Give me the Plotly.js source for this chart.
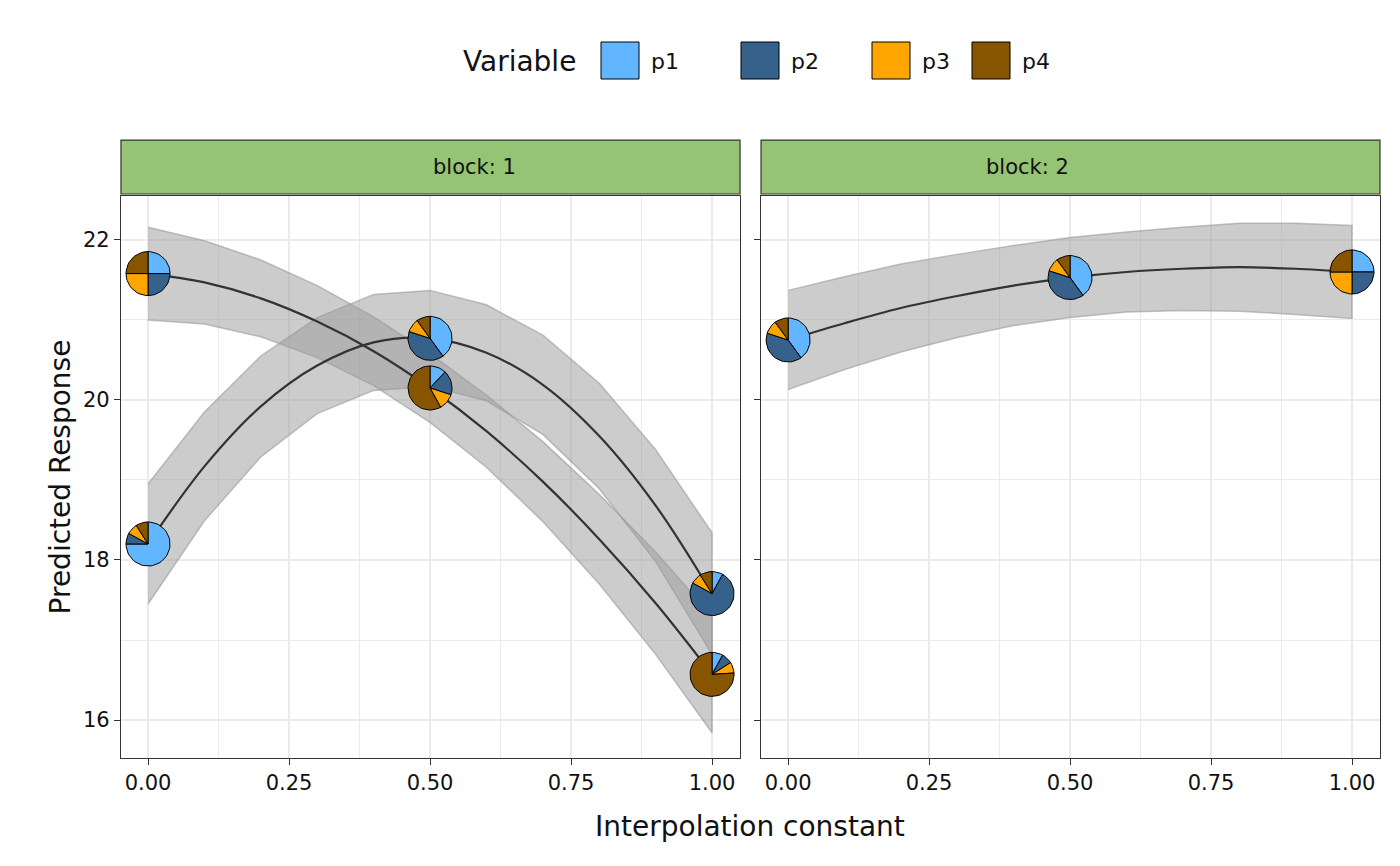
<!DOCTYPE html>
<html>
<head>
<meta charset="utf-8">
<script src="https://cdn.plot.ly/plotly-3.0.1.min.js"></script>
<style>body{margin:0;} #chart{width:1400px;height:866px;}</style>
</head>
<body>
<div id="chart"></div>
<script>
// curve values
let xs = [0, 0.1, 0.2, 0.3, 0.4, 0.5, 0.6, 0.7, 0.8, 0.9, 1];
let curveA = [21.58, 21.47, 21.27, 20.98, 20.61, 20.15, 19.61, 18.98, 18.26, 17.46, 16.57];
let bandA = [0.58, 0.52, 0.48, 0.45, 0.43, 0.43, 0.45, 0.5, 0.56, 0.64, 0.73];
let curveB = [18.2, 19.17, 19.92, 20.43, 20.72, 20.77, 20.59, 20.19, 19.55, 18.68, 17.58];
let bandB = [0.75, 0.68, 0.63, 0.6, 0.6, 0.6, 0.6, 0.62, 0.66, 0.7, 0.76];
let curveC = [20.75, 20.96, 21.15, 21.3, 21.43, 21.53, 21.6, 21.64, 21.66, 21.64, 21.6];
let bandC = [0.62, 0.58, 0.55, 0.52, 0.5, 0.5, 0.5, 0.52, 0.55, 0.57, 0.58];

// pie points
let pieBlock = [1, 1, 1, 1, 1, 1, 2, 2, 2];
let pieX = [0, 0, 0.5, 0.5, 1, 1, 0, 0.5, 1];
let pieY = [21.58, 18.2, 20.77, 20.15, 17.58, 16.57, 20.75, 21.53, 21.6];
let p1 = [0.25, 0.75, 0.4, 0.12, 0.08, 0.08, 0.4, 0.4, 0.25];
let p2 = [0.25, 0.08, 0.4, 0.18, 0.75, 0.08, 0.4, 0.4, 0.25];
let p3 = [0.25, 0.08, 0.1, 0.12, 0.08, 0.08, 0.1, 0.1, 0.25];
let p4 = [0.25, 0.09, 0.1, 0.58, 0.09, 0.76, 0.1, 0.1, 0.25];
let varNames = ["p1", "p2", "p3", "p4"];
let varColors = ["#62B6FF", "#35618A", "#FFA500", "#875400"];

let traces = [];

function addBand(x, c, hw, xa, ya) {
    let up = c.map((v, i) => v + hw[i]);
    let lo = c.map((v, i) => v - hw[i]);
    traces.push({x: x.concat(x.slice().reverse()), y: up.concat(lo.slice().reverse()),
        type: "scatter", mode: "lines", fill: "toself", fillcolor: "rgba(153,153,153,0.5)",
        line: {color: "rgba(153,153,153,0.6)", width: 1.5},
        xaxis: xa, yaxis: ya, showlegend: false, hoverinfo: "skip"});
}
function addCurve(x, c, xa, ya) {
    traces.push({x: x, y: c, type: "scatter", mode: "lines",
        line: {color: "#333333", width: 2.2, shape: "spline"},
        xaxis: xa, yaxis: ya, showlegend: false});
}
addBand(xs, curveA, bandA, "x", "y");
addBand(xs, curveB, bandB, "x", "y");
addBand(xs, curveC, bandC, "x2", "y2");
addCurve(xs, curveA, "x", "y");
addCurve(xs, curveB, "x", "y");
addCurve(xs, curveC, "x2", "y2");

// pie wedges in data units (radius ~22px)
let rx = 22 / 564, ry = 22 / 80;
for (let i = 0; i < pieX.length; i++) {
    let props = [p1[i], p2[i], p3[i], p4[i]];
    let start = 0;
    props.forEach((p, k) => {
        let px = [pieX[i]], py = [pieY[i]];
        let n = Math.max(4, Math.ceil(p * 60));
        for (let j = 0; j <= n; j++) {
            let a = 2 * Math.PI * (start + p * j / n);
            px.push(pieX[i] + rx * Math.sin(a));
            py.push(pieY[i] + ry * Math.cos(a));
        }
        px.push(pieX[i]); py.push(pieY[i]);
        start += p;
        traces.push({x: px, y: py, type: "scatter", mode: "lines", fill: "toself",
            fillcolor: varColors[k], line: {color: "black", width: 1},
            name: varNames[k], showlegend: false,
            xaxis: pieBlock[i] == 1 ? "x" : "x2", yaxis: pieBlock[i] == 1 ? "y" : "y2"});
    });
}

let gridc = "#EBEBEB";
let xTick = [0, 0.25, 0.5, 0.75, 1];
let xLab = ["0.00", "0.25", "0.50", "0.75", "1.00"];
let xaxisBase = {range: [-0.048, 1.0496], tickvals: xTick, ticktext: xLab,
    showgrid: true, gridcolor: gridc, gridwidth: 1.5,
    minor: {dtick: 0.125, tick0: 0.125, showgrid: true, gridcolor: gridc, gridwidth: 0.8},
    showline: true, linecolor: "#333333", linewidth: 1.2, mirror: true,
    ticks: "outside", ticklen: 6, tickcolor: "#333333",
    zeroline: false, tickfont: {size: 21, color: "#111"}};
let yaxisBase = {range: [15.525, 22.55], tickvals: [16, 18, 20, 22],
    showgrid: true, gridcolor: gridc, gridwidth: 1.5,
    minor: {dtick: 1, tick0: 17, showgrid: true, gridcolor: gridc, gridwidth: 0.8},
    showline: true, linecolor: "#333333", linewidth: 1.2, mirror: true,
    ticks: "outside", ticklen: 6, tickcolor: "#333333",
    zeroline: false, tickfont: {size: 21, color: "#111"}, domain: [0.1247, 0.7737]};

// manual legend (boxes like ggplot keys)
let legX = [601, 741, 872, 972];
let shapes = [
    {type: "rect", xref: "paper", yref: "paper", x0: 0.0864, x1: 0.5286, y0: 0.776, y1: 0.8383,
        fillcolor: "#95C475", line: {color: "#333333", width: 1.2}},
    {type: "rect", xref: "paper", yref: "paper", x0: 0.5436, x1: 0.9857, y0: 0.776, y1: 0.8383,
        fillcolor: "#95C475", line: {color: "#333333", width: 1.2}}
];
let annotations = [
    {text: "block: 1", xref: "paper", yref: "paper", x: 0.3075, y: 0.807, yanchor: "middle", showarrow: false, font: {size: 21}},
    {text: "block: 2", xref: "paper", yref: "paper", x: 0.7647, y: 0.807, yanchor: "middle", showarrow: false, font: {size: 21}},
    {text: "Interpolation constant", xref: "paper", yref: "paper", x: 0.536, y: 1 - 826 / 866,
        yanchor: "middle", showarrow: false, font: {size: 28}},
    {text: "Variable", xref: "paper", yref: "paper", x: 578 / 1400, xanchor: "right", y: 1 - 62 / 866,
        yanchor: "middle", showarrow: false, font: {size: 28}}
];
varNames.forEach((nm, k) => {
    shapes.push({type: "rect", xref: "paper", yref: "paper", x0: legX[k] / 1400, x1: (legX[k] + 38) / 1400,
        y0: 1 - 79 / 866, y1: 1 - 42 / 866, fillcolor: varColors[k], line: {color: "black", width: 1}});
    annotations.push({text: nm, xref: "paper", yref: "paper", x: (legX[k] + 48) / 1400, xanchor: "left",
        y: 1 - 62 / 866, yanchor: "middle", showarrow: false, font: {size: 22}});
});

let layout = {
    width: 1400, height: 866,
    margin: {l: 0, r: 0, t: 0, b: 0},
    paper_bgcolor: "white", plot_bgcolor: "white",
    font: {family: "DejaVu Sans", color: "#111"},
    xaxis: Object.assign({}, xaxisBase, {domain: [0.0864, 0.5286], anchor: "y"}),
    xaxis2: Object.assign({}, xaxisBase, {domain: [0.5436, 0.9857], anchor: "y2"}),
    yaxis: Object.assign({}, yaxisBase, {anchor: "x",
        title: {text: "Predicted Response", font: {size: 28}, standoff: 4}}),
    yaxis2: Object.assign({}, yaxisBase, {anchor: "x2", showticklabels: false}),
    shapes: shapes,
    annotations: annotations,
    showlegend: false
};

Plotly.newPlot("chart", traces, layout, {displayModeBar: false});
</script>
</body>
</html>
